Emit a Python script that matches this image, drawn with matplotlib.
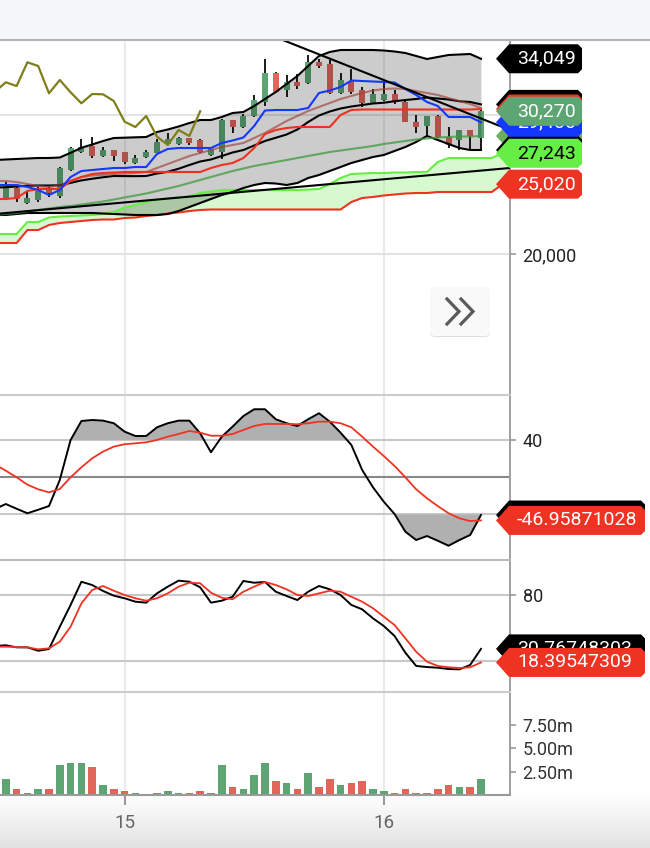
import numpy as np
import matplotlib
matplotlib.use('Agg')
import matplotlib.pyplot as plt
from matplotlib.patches import Polygon, FancyBboxPatch, Rectangle
from matplotlib.lines import Line2D
from matplotlib.transforms import IdentityTransform
from matplotlib.ticker import FuncFormatter

plt.rcParams['font.family'] = ['Roboto', 'DejaVu Sans']

W, H = 650, 848

# hourly bars, 14th 13:00 .. 16th 09:00 (bar 11 = 15th 00:00, bar 35 = 16th 00:00)
day_pos = [11, 35]
day_labels = ['15', '16']

bar_open = [24024, 24722, 23642, 23880, 24722, 24168, 26040, 27314, 27768, 27048,
            27480, 27314, 26522, 26954, 27286, 27890, 27912, 28344, 28200, 27098,
            27358, 29640, 29114, 29928, 30958, 33002, 31800, 32398, 32282, 33838,
            33672, 31562, 32470, 31800, 30842, 31080, 31512, 30958, 29518, 29208,
            29928, 28438, 28200, 28920, 28322]
bar_high = [25176, 24816, 24456, 24794, 24816, 26292, 27718, 28250, 28438, 27674,
            27516, 27336, 27120, 27480, 28272, 28682, 28438, 28380, 28272, 27552,
            29712, 29676, 30072, 31440, 34032, 33096, 32880, 32930, 34320, 34032,
            33960, 33002, 33290, 31994, 31850, 32282, 31800, 31080, 30000, 29964,
            30000, 29114, 28956, 28956, 30360]
bar_low = [23952, 23736, 23592, 23714, 24096, 24002, 26004, 27264, 26882, 26998,
           26688, 26450, 26508, 26940, 27264, 27840, 27840, 27840, 27242, 27048,
           26810, 28726, 29064, 29878, 30648, 31584, 31318, 31872, 32232, 33384,
           31512, 31512, 31512, 30598, 30792, 31044, 30792, 29496, 28726, 28438,
           28344, 27602, 27480, 27480, 27480]
bar_close = [24888, 23952, 24024, 24528, 24362, 26184, 27602, 27718, 27048, 27480,
             27070, 26594, 26882, 27358, 28078, 28308, 28322, 27962, 27358, 27530,
             29640, 29114, 29928, 31080, 33002, 31678, 32354, 32088, 33794, 33528,
             31562, 32520, 31634, 30842, 31512, 31490, 31008, 29518, 29136, 29928,
             28438, 27840, 28920, 28488, 30270]
volume_m = [1.75, 0.68, 0.25, 0.68, 0.68, 3.25, 3.47, 3.47, 3.04, 1.11,
            0.68, 0.46, 0.25, 0.05, 0.25, 0.46, 0.25, 0.25, 0.46, 0.25,
            3.25, 0.89, 0.68, 2.18, 3.47, 1.54, 1.32, 0.68, 2.39, 0.89,
            1.75, 1.11, 1.32, 1.54, 0.68, 0.46, 0.25, 0.68, 0.25, 0.25,
            0.68, 1.11, 0.89, 0.89, 1.75]

# indicator lines, bars -1 .. 44
bb_upper = [26760, 26796, 26832, 26868, 26904, 26904, 26940, 27278, 27638, 27876,
            28128, 28344, 28366, 28394, 28416, 28776, 28956, 29172, 29424, 29640,
            29640, 29856, 30144, 30216, 30648, 31152, 31656, 32232, 32808, 33528,
            34248, 34536, 34680, 34680, 34680, 34680, 34644, 34572, 34464, 34248,
            34032, 34176, 34320, 34356, 34392, 34049]
bb_lower = [22800, 22800, 22872, 22944, 22944, 22944, 22944, 22944, 22944, 22944,
            22908, 22872, 22836, 22800, 22800, 22800, 22872, 23088, 23376, 23664,
            23952, 24240, 24456, 24744, 24960, 25104, 25068, 24960, 25104, 25464,
            25680, 25968, 26256, 26544, 26760, 26976, 27120, 27408, 27696, 28056,
            28488, 28200, 27912, 27624, 27480, 27480]
tenkan = [24960, 24960, 24960, 24816, 24600, 24240, 24600, 25536, 25968, 26040,
          26112, 26184, 26184, 26256, 26256, 27192, 27552, 27624, 27624, 27624,
          27624, 27984, 28164, 28380, 29208, 30324, 30360, 30360, 30360, 30504,
          31584, 31764, 32016, 32484, 32448, 32412, 32376, 32340, 31872, 31440,
          30936, 30648, 29856, 29856, 29856, 29480]
kijun = [23952, 23952, 24024, 24528, 24672, 24672, 24672, 25248, 25536, 25752,
         25824, 25860, 25896, 25896, 25896, 25896, 25896, 25896, 25896, 25896,
         26184, 26400, 26544, 26904, 27624, 28632, 28920, 29064, 29136, 29136,
         29136, 29136, 30000, 30360, 30396, 30396, 30396, 30396, 30396, 30396,
         30396, 30396, 30396, 30396, 30396, 30432]
ma_fast = [25248, 25248, 25176, 25032, 24888, 24816, 24960, 25248, 25536, 25644,
           25680, 25752, 25788, 25824, 25896, 26184, 26472, 26760, 27048, 27264,
           27480, 27696, 27840, 27984, 28344, 28704, 29136, 29568, 29928, 30288,
           30576, 30864, 31152, 31368, 31584, 31764, 31872, 31908, 31872, 31728,
           31584, 31440, 31224, 31008, 30792, 30504]
ma_slow = [22800, 22872, 22944, 23052, 23160, 23268, 23376, 23448, 23556, 23664,
           23772, 23916, 24060, 24204, 24348, 24528, 24708, 24888, 25104, 25320,
           25536, 25752, 25968, 26148, 26328, 26472, 26616, 26760, 26904, 27048,
           27192, 27336, 27444, 27552, 27660, 27768, 27912, 28020, 28128, 28236,
           28308, 28380, 28416, 28452, 28452, 28488]

# cloud, bars -1 .. 47
span_a = [21432, 21432, 21432, 22296, 22296, 22620, 22692, 22728, 22764, 22800,
          22872, 23016, 23340, 23520, 23736, 23880, 23988, 24060, 24132, 24384,
          24492, 24600, 24600, 24600, 24600, 24600, 24600, 24600, 24600, 24636,
          24672, 25032, 25464, 25752, 25788, 25824, 25824, 25860, 25860, 25896,
          25896, 26616, 26904, 26904, 26904, 26904, 26904, 27243, 27696]
span_b = [20784, 20784, 20784, 21720, 21720, 22080, 22224, 22296, 22368, 22440,
          22476, 22476, 22584, 22620, 22728, 22800, 22908, 22980, 23088, 23160,
          23196, 23196, 23196, 23196, 23196, 23196, 23196, 23196, 23196, 23196,
          23196, 23196, 23196, 23736, 24024, 24096, 24204, 24276, 24348, 24384,
          24384, 24456, 24456, 24456, 24456, 24456, 24456, 25020, 25320]

trend_down_x, trend_down_y = [24, 47], [35906, 28826]
trend_up_x, trend_up_y = [-1, 47], [22872, 26206]

# oscillator panel, bars -1 .. 44
osc_line = [-34.6, -29.2, -34.3, -39.2, -35.4, -31.4, -3.2, 40.0, 60.5, 61.6,
            60.9, 58.1, 49.0, 44.3, 44.3, 53.7, 58.1, 60.9, 60.9, 47.2,
            26.7, 43.6, 54.4, 65.9, 73.2, 73.2, 62.4, 58.1, 55.1, 62.4,
            68.9, 59.8, 47.9, 34.6, 7.6, -11.1, -26.7, -40.0, -59.1, -68.1,
            -63.8, -68.9, -74.3, -68.1, -62.7, -41.10532817]
osc_signal = [13.6, 6.8, -0.3, -8.3, -13.3, -16.6, -13.0, -0.3, 10.5, 20.2,
              27.4, 32.8, 35.4, 36.4, 37.5, 40.0, 43.6, 46.5, 49.7, 47.9,
              44.6, 44.6, 46.5, 50.8, 55.1, 57.3, 57.3, 57.3, 57.0, 58.1,
              59.8, 59.8, 58.1, 53.7, 43.6, 32.8, 22.7, 11.9, -0.3, -13.3,
              -23.0, -31.4, -39.2, -44.6, -47.6, -46.95871028]

# stochastic panel, bars -1 .. 44
stoch_k = [33.4, 34.1, 32.2, 32.2, 29.1, 30.7, 51.0, 70.9, 92.1, 89.1,
           83.7, 79.4, 77.0, 73.9, 73.0, 81.5, 87.6, 93.1, 92.1, 87.0,
           73.0, 74.8, 78.4, 92.8, 91.2, 91.9, 83.0, 79.1, 75.4, 83.0,
           88.2, 85.2, 80.0, 70.9, 66.9, 58.7, 51.7, 42.6, 27.3, 15.2,
           14.2, 13.6, 12.4, 12.1, 16.1, 30.76748303]
stoch_d = [32.8, 32.8, 32.5, 32.2, 30.4, 31.3, 37.4, 51.0, 72.4, 84.6,
           88.2, 83.9, 80.0, 77.0, 74.8, 77.0, 81.5, 87.6, 91.2, 90.7,
           82.1, 77.5, 76.1, 83.0, 87.6, 91.9, 89.1, 85.2, 80.0, 79.1,
           81.5, 83.9, 83.0, 78.4, 73.9, 67.9, 60.2, 52.6, 40.5, 28.2,
           19.1, 15.2, 14.0, 13.3, 14.0, 18.39547309]

UP, DOWN = '#5da573', '#e0665a'

bars = np.arange(len(bar_close))
xl = np.arange(-1, 45)
xc = np.arange(-1, 48)
o, hi, lo, c = map(np.array, (bar_open, bar_high, bar_low, bar_close))
up = c >= o
cols = np.where(up, UP, DOWN)

fig = plt.figure(figsize=(W / 100, H / 100), dpi=100)
fig.patch.set_facecolor('white')


def panel(top, bottom):
    return fig.add_axes([0, (H - bottom) / H, 510 / W, (bottom - top) / H])


ax = panel(40, 395)
ax_o = panel(395, 560)
ax_s = panel(560, 692)
ax_v = panel(692, 795)
axes = [ax, ax_o, ax_s, ax_v]

for a in axes:
    a.set_xlim(-0.537, 46.69)
    for s in ('left', 'top', 'bottom'):
        a.spines[s].set_visible(False)
    a.spines['right'].set_color('#9a9a9a')
    a.spines['right'].set_linewidth(1.3)
    a.yaxis.tick_right()
    a.tick_params(axis='y', direction='out', length=4, width=1.2, color='#9a9a9a',
                  pad=5, labelsize=13, labelcolor='#222222')
    a.tick_params(axis='x', length=0, labelbottom=False)
    for d in day_pos:
        a.axvline(d, color='#ebebeb', lw=1.5, zorder=0)
for a, col in ((ax_o, '#cccccc'), (ax_s, '#bbbbbb'), (ax_v, '#cccccc')):
    a.spines['top'].set_visible(True)
    a.spines['top'].set_color(col)
    a.spines['top'].set_linewidth(1.5)

# ---- price panel
ax.set_ylim(9840, 35400)
ax.set_yticks([20000, 30000])
ax.yaxis.set_major_formatter(FuncFormatter(lambda v, p: f'{v:,.0f}'))
for g in (20000, 30000):
    ax.axhline(g, color='#e3e3e3', lw=1.5, zorder=0)

ax.fill_between(xc, span_a, span_b, color='#8cf078', alpha=0.35, lw=0, zorder=1)
ax.plot(xc, span_a, color='#66ee44', lw=1.5, zorder=5)
ax.plot(xc, span_b, color='#ee3322', lw=1.5, zorder=5)

ax.vlines(bars, lo, hi, color='#1a1a1a', lw=1.4, zorder=2)
ax.bar(bars, np.abs(c - o), bottom=np.minimum(o, c), width=0.55, color=cols, zorder=3)

ax.fill_between(xl, bb_lower, bb_upper, color='black', alpha=0.2, lw=0, zorder=4)
bb_mid = (np.array(bb_upper) + np.array(bb_lower)) / 2
for s in (bb_upper, bb_lower, bb_mid):
    ax.plot(xl, s, color='black', lw=1.5, zorder=6)

ax.plot(xl, ma_slow, color='#3c9a3c', alpha=0.75, lw=1.5, zorder=6)
ax.plot(xl, ma_fast, color='#a04038', alpha=0.65, lw=1.5, zorder=6)
ax.plot(xl, kijun, color='#f03020', lw=1.5, zorder=7)
ax.plot(xl, tenkan, color='#1438ff', lw=1.5, zorder=7)

# lagging close (shifted back 26 bars)
ax.plot(bars[25:] - 26, c[25:], color='#7f7f1a', lw=1.6, zorder=7)

ax.plot(trend_down_x, trend_down_y, color='black', lw=1.5, zorder=8)
ax.plot(trend_up_x, trend_up_y, color='black', lw=1.5, zorder=8)

# ---- oscillator panel
ax_o.set_ylim(-89.7, 88.6)
ax_o.set_yticks([-40, 40])
for g in (-40, 40):
    ax_o.axhline(g, color='#c8c8c8', lw=1.5, zorder=1)
ax_o.axhline(0, color='#888888', lw=1.5, zorder=1)
osc = np.array(osc_line)
ax_o.fill_between(xl, osc, 40, where=osc > 40, interpolate=True, color='#b0b0b0', lw=0, zorder=2)
ax_o.fill_between(xl, osc, -40, where=osc < -40, interpolate=True, color='#b0b0b0', lw=0, zorder=2)
ax_o.plot(xl, osc_line, color='black', lw=1.4, zorder=4)
ax_o.plot(xl, osc_signal, color='#ee3322', lw=1.3, zorder=4)

# ---- stochastic panel
ax_s.set_ylim(-8.58, 111.96)
ax_s.set_yticks([20, 80])
for g in (20, 80):
    ax_s.axhline(g, color='#c8c8c8', lw=1.5, zorder=1)
ax_s.plot(xl, stoch_k, color='black', lw=1.4, zorder=4)
ax_s.plot(xl, stoch_d, color='#ee3322', lw=1.3, zorder=4)

# ---- volume panel
ax_v.set_ylim(0, 11.05)
ax_v.bar(bars, volume_m, width=0.7, color=cols, zorder=2)
ax_v.set_yticks([2.5, 5.0, 7.5])
ax_v.yaxis.set_major_formatter(FuncFormatter(lambda v, p: f'{v:.2f}m'))
ax_v.tick_params(axis='y', labelcolor='#333333')
ax_v.spines['bottom'].set_visible(True)
ax_v.spines['bottom'].set_color('#9a9a9a')
ax_v.spines['bottom'].set_linewidth(1.5)
ax_v.set_xticks(day_pos)
ax_v.set_xticklabels(day_labels)
ax_v.tick_params(axis='x', length=7, width=1.5, color='#9a9a9a', pad=7,
                 labelsize=13.5, labelcolor='#666666', labelbottom=True)

# header strip and bottom gradient
fig.add_artist(Rectangle((0, H - 40), W, 40, transform=IdentityTransform(),
                         fc='#f5f6f8', ec='none', zorder=1))
fig.add_artist(Line2D([0, W], [H - 40, H - 40], transform=IdentityTransform(),
                      color='#b5b5b5', lw=1.5, zorder=2))
gax = fig.add_axes([0, 0, 1, 53 / H], zorder=-5)
shade = np.linspace(255, 226, 64) / 255
gax.imshow(shade[:, None, None] * np.ones((1, 2, 3)), aspect='auto', extent=[0, 1, 0, 1])
gax.axis('off')

# scroll button
fig.add_artist(FancyBboxPatch((430, H - 337), 60, 48, boxstyle='round,pad=0,rounding_size=5',
                              transform=IdentityTransform(), fc='#dedede', ec='none', zorder=3))
fig.add_artist(FancyBboxPatch((430, H - 336), 60, 49, boxstyle='round,pad=0,rounding_size=5',
                              transform=IdentityTransform(), fc='#f9f9f9', ec='none', zorder=3))
for x0 in (447, 461):
    fig.add_artist(Line2D([x0, x0 + 12, x0], [H - 299, H - 311.5, H - 324],
                          transform=IdentityTransform(), color='#5a5a5a', lw=2.3,
                          solid_joinstyle='miter', zorder=4))


def tag(a, value, text, face, fg='white', right=582, z=10, h=29):
    y = a.transData.transform((0, value))[1]
    pts = [(496, y), (509, y + h / 2), (right - 4, y + h / 2), (right, y + h / 2 - 4),
           (right, y - h / 2 + 4), (right - 4, y - h / 2), (509, y - h / 2)]
    fig.add_artist(Polygon(pts, closed=True, transform=IdentityTransform(),
                           fc=face, ec='none', zorder=z))
    fig.text(517 / W, y / H, text, color=fg, fontsize=14, ha='left', va='center',
             zorder=z + 0.5)


def price(v):
    return f'{v:,.0f}'


tag(ax, bb_mid[-1], price(bb_mid[-1]), 'black', z=10)
tag(ax, kijun[-1], price(kijun[-1]), '#ee3322', z=11)
tag(ax, ma_slow[-1], price(ma_slow[-1]), '#6aaf5c', z=12)
tag(ax, bb_lower[-1], price(bb_lower[-1]), 'black', z=13)
tag(ax, tenkan[-1], price(tenkan[-1]), '#1438ff', z=14)
tag(ax, bar_close[-1], price(bar_close[-1]), UP, z=15)
tag(ax, span_a[-2], price(span_a[-2]), '#66ee44', fg='black', z=16)
tag(ax, span_b[-2], price(span_b[-2]), '#ee3322', z=17)
tag(ax, bb_upper[-1], price(bb_upper[-1]), 'black', z=18)

tag(ax_o, osc_line[-1], f'{osc_line[-1]:.8f}', 'black', right=645, z=10)
tag(ax_o, osc_signal[-1], f'{osc_signal[-1]:.8f}', '#ee3322', right=645, z=11)
tag(ax_s, stoch_k[-1], f'{stoch_k[-1]:.8f}', 'black', right=645, z=10)
tag(ax_s, stoch_d[-1], f'{stoch_d[-1]:.8f}', '#ee3322', right=645, z=11)

fig.savefig('out.png', dpi=100)
